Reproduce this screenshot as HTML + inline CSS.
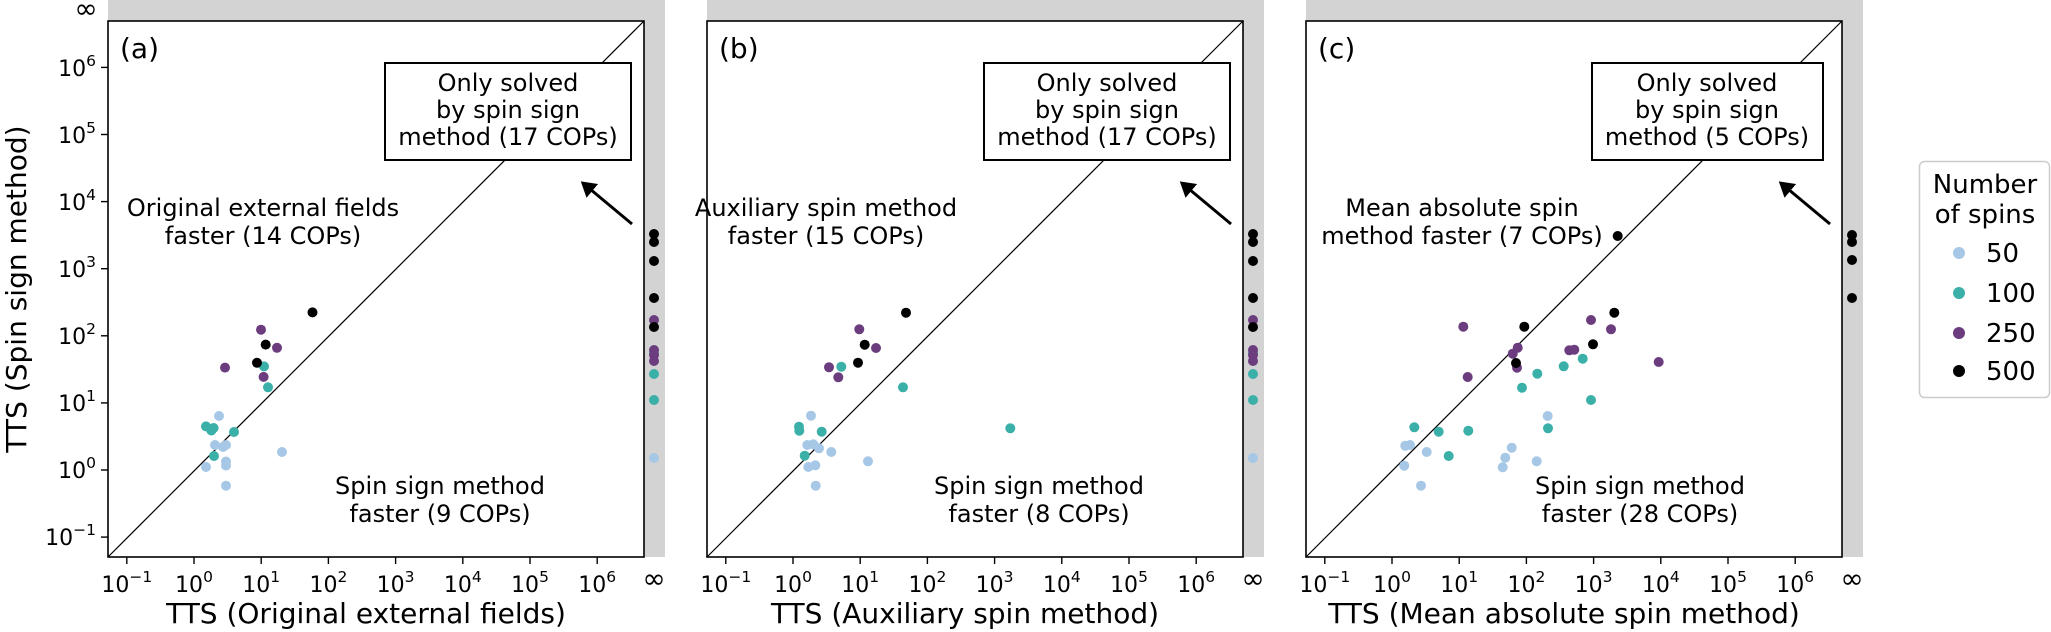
<!DOCTYPE html>
<html><head><meta charset="utf-8"><style>
html,body{margin:0;padding:0;background:#fff;}
svg{display:block;}
text{font-family:"DejaVu Sans","Liberation Sans",sans-serif;fill:#000;}
.t{font-size:22px;}
.s{font-size:15.5px;}
.p{font-size:24px;}
.l{font-size:28px;}
</style></head><body>
<svg width="2051" height="632" viewBox="0 0 2051 632" xmlns="http://www.w3.org/2000/svg">
<defs>
<marker id="ah" markerWidth="6" markerHeight="6" refX="1" refY="3" orient="auto" markerUnits="strokeWidth">
<path d="M0,0 L5,3 L0,6 z" fill="#000"/></marker>
</defs>

<!-- ================= PANEL A ================= -->
<g>
<rect x="108" y="0" width="557" height="21" fill="#d3d3d3"/>
<rect x="644" y="21" width="21" height="536" fill="#d3d3d3"/>
<rect x="108" y="21" width="536" height="536" fill="#fff" stroke="#000" stroke-width="1.6"/>
<line x1="108" y1="557" x2="644" y2="21" stroke="#000" stroke-width="1.2"/>
<g stroke="#000" stroke-width="1.4">
<line x1="126.8" y1="557" x2="126.8" y2="564"/><line x1="194" y1="557" x2="194" y2="564"/><line x1="261.2" y1="557" x2="261.2" y2="564"/><line x1="328.4" y1="557" x2="328.4" y2="564"/><line x1="395.6" y1="557" x2="395.6" y2="564"/><line x1="462.8" y1="557" x2="462.8" y2="564"/><line x1="530" y1="557" x2="530" y2="564"/><line x1="597.2" y1="557" x2="597.2" y2="564"/>
<line x1="101" y1="537.1" x2="108" y2="537.1"/><line x1="101" y1="470" x2="108" y2="470"/><line x1="101" y1="402.9" x2="108" y2="402.9"/><line x1="101" y1="335.8" x2="108" y2="335.8"/><line x1="101" y1="268.7" x2="108" y2="268.7"/><line x1="101" y1="201.6" x2="108" y2="201.6"/><line x1="101" y1="134.5" x2="108" y2="134.5"/><line x1="101" y1="67.4" x2="108" y2="67.4"/>
</g>
<g class="t" text-anchor="middle">
<text x="126.8" y="592">10<tspan class="s" dy="-10">−1</tspan></text>
<text x="194" y="592">10<tspan class="s" dy="-10">0</tspan></text>
<text x="261.2" y="592">10<tspan class="s" dy="-10">1</tspan></text>
<text x="328.4" y="592">10<tspan class="s" dy="-10">2</tspan></text>
<text x="395.6" y="592">10<tspan class="s" dy="-10">3</tspan></text>
<text x="462.8" y="592">10<tspan class="s" dy="-10">4</tspan></text>
<text x="530" y="592">10<tspan class="s" dy="-10">5</tspan></text>
<text x="597.2" y="592">10<tspan class="s" dy="-10">6</tspan></text>
</g>
<g class="t" text-anchor="end">
<text x="96" y="545">10<tspan class="s" dy="-10">−1</tspan></text>
<text x="96" y="478">10<tspan class="s" dy="-10">0</tspan></text>
<text x="96" y="411">10<tspan class="s" dy="-10">1</tspan></text>
<text x="96" y="344">10<tspan class="s" dy="-10">2</tspan></text>
<text x="96" y="277">10<tspan class="s" dy="-10">3</tspan></text>
<text x="96" y="210">10<tspan class="s" dy="-10">4</tspan></text>
<text x="96" y="143">10<tspan class="s" dy="-10">5</tspan></text>
<text x="96" y="76">10<tspan class="s" dy="-10">6</tspan></text>
</g>
<text x="86" y="18" class="l" text-anchor="middle">∞</text>
<text x="654" y="588" class="l" text-anchor="middle">∞</text>
<text x="120" y="58" class="l">(a)</text>
<text class="p" text-anchor="middle"><tspan x="263" y="216">Original external fields</tspan><tspan x="263" y="244">faster (14 COPs)</tspan></text>
<text class="p" text-anchor="middle"><tspan x="440" y="494">Spin sign method</tspan><tspan x="440" y="522">faster (9 COPs)</tspan></text>
<rect x="385" y="63" width="246" height="97" fill="#fff" stroke="#000" stroke-width="2"/>
<text class="p" text-anchor="middle"><tspan x="508" y="91">Only solved</tspan><tspan x="508" y="118">by spin sign</tspan><tspan x="508" y="145">method (17 COPs)</tspan></text>
<line x1="632" y1="224" x2="590" y2="189" stroke="#000" stroke-width="3" marker-end="url(#ah)"/>
<text x="366" y="623" class="l" text-anchor="middle">TTS (Original external fields)</text>
<text transform="translate(26,289) rotate(-90)" class="l" text-anchor="middle">TTS (Spin sign method)</text>
<g fill="#a6c8e6">
<circle cx="219" cy="416" r="5"/><circle cx="215" cy="445" r="5"/><circle cx="226" cy="445" r="5"/><circle cx="223" cy="447" r="5"/><circle cx="226" cy="461.5" r="5"/><circle cx="226" cy="465.5" r="5"/><circle cx="206" cy="467" r="5"/><circle cx="282" cy="452" r="5"/><circle cx="226" cy="485.7" r="5"/><circle cx="654" cy="458" r="5"/>
</g>
<g fill="#3bb0a9">
<circle cx="264" cy="366.4" r="5"/><circle cx="268" cy="387.3" r="5"/><circle cx="206" cy="426.4" r="5"/><circle cx="213.6" cy="428" r="5"/><circle cx="211.4" cy="430.5" r="5"/><circle cx="234" cy="432" r="5"/><circle cx="214" cy="456" r="5"/>
<circle cx="654" cy="353" r="5"/><circle cx="654" cy="374" r="5"/><circle cx="654" cy="400" r="5"/>
</g>
<g fill="#6b3d7f">
<circle cx="261" cy="329.7" r="5"/><circle cx="277" cy="347.8" r="5"/><circle cx="225" cy="367.6" r="5"/><circle cx="263.6" cy="376.9" r="5"/>
<circle cx="654" cy="320" r="5"/><circle cx="654" cy="350" r="5"/><circle cx="654" cy="355" r="5"/><circle cx="654" cy="361" r="5"/>
</g>
<g fill="#000">
<circle cx="312.5" cy="312.4" r="5"/><circle cx="265.7" cy="344.6" r="5"/><circle cx="257" cy="362.8" r="5"/>
<circle cx="654" cy="234" r="5"/><circle cx="654" cy="242" r="5"/><circle cx="654" cy="261" r="5"/><circle cx="654" cy="298" r="5"/><circle cx="654" cy="327" r="5"/>
</g>
</g>

<!-- ================= PANEL B ================= -->
<g>
<rect x="707" y="0" width="557" height="21" fill="#d3d3d3"/>
<rect x="1243" y="21" width="21" height="536" fill="#d3d3d3"/>
<rect x="707" y="21" width="536" height="536" fill="#fff" stroke="#000" stroke-width="1.6"/>
<line x1="707" y1="557" x2="1243" y2="21" stroke="#000" stroke-width="1.2"/>
<g stroke="#000" stroke-width="1.4">
<line x1="725.8" y1="557" x2="725.8" y2="564"/><line x1="793" y1="557" x2="793" y2="564"/><line x1="860.2" y1="557" x2="860.2" y2="564"/><line x1="927.4" y1="557" x2="927.4" y2="564"/><line x1="994.6" y1="557" x2="994.6" y2="564"/><line x1="1061.8" y1="557" x2="1061.8" y2="564"/><line x1="1129" y1="557" x2="1129" y2="564"/><line x1="1196.2" y1="557" x2="1196.2" y2="564"/>
</g>
<g class="t" text-anchor="middle">
<text x="725.8" y="592">10<tspan class="s" dy="-10">−1</tspan></text>
<text x="793" y="592">10<tspan class="s" dy="-10">0</tspan></text>
<text x="860.2" y="592">10<tspan class="s" dy="-10">1</tspan></text>
<text x="927.4" y="592">10<tspan class="s" dy="-10">2</tspan></text>
<text x="994.6" y="592">10<tspan class="s" dy="-10">3</tspan></text>
<text x="1061.8" y="592">10<tspan class="s" dy="-10">4</tspan></text>
<text x="1129" y="592">10<tspan class="s" dy="-10">5</tspan></text>
<text x="1196.2" y="592">10<tspan class="s" dy="-10">6</tspan></text>
</g>
<text x="1253" y="588" class="l" text-anchor="middle">∞</text>
<text x="719" y="58" class="l">(b)</text>
<text class="p" text-anchor="middle"><tspan x="826" y="216">Auxiliary spin method</tspan><tspan x="826" y="244">faster (15 COPs)</tspan></text>
<text class="p" text-anchor="middle"><tspan x="1039" y="494">Spin sign method</tspan><tspan x="1039" y="522">faster (8 COPs)</tspan></text>
<rect x="984" y="63" width="246" height="97" fill="#fff" stroke="#000" stroke-width="2"/>
<text class="p" text-anchor="middle"><tspan x="1107" y="91">Only solved</tspan><tspan x="1107" y="118">by spin sign</tspan><tspan x="1107" y="145">method (17 COPs)</tspan></text>
<line x1="1231" y1="224" x2="1189" y2="189" stroke="#000" stroke-width="3" marker-end="url(#ah)"/>
<text x="965" y="623" class="l" text-anchor="middle">TTS (Auxiliary spin method)</text>
<g fill="#a6c8e6">
<circle cx="811" cy="415.7" r="5"/><circle cx="807.3" cy="445" r="5"/><circle cx="813.3" cy="444.3" r="5"/><circle cx="819" cy="448.3" r="5"/><circle cx="831.3" cy="452" r="5"/><circle cx="808.3" cy="467" r="5"/><circle cx="815.3" cy="465.3" r="5"/><circle cx="868" cy="461.3" r="5"/><circle cx="815.7" cy="485.7" r="5"/><circle cx="1253" cy="458" r="5"/>
</g>
<g fill="#3bb0a9">
<circle cx="841.3" cy="366.7" r="5"/><circle cx="903" cy="387.3" r="5"/><circle cx="799" cy="426.7" r="5"/><circle cx="799.3" cy="430.7" r="5"/><circle cx="821.7" cy="431.7" r="5"/><circle cx="804.7" cy="455.7" r="5"/><circle cx="1010.3" cy="428.3" r="5"/>
<circle cx="1253" cy="353" r="5"/><circle cx="1253" cy="374" r="5"/><circle cx="1253" cy="400" r="5"/>
</g>
<g fill="#6b3d7f">
<circle cx="859.3" cy="329.3" r="5"/><circle cx="876" cy="348" r="5"/><circle cx="829" cy="367.3" r="5"/><circle cx="838.3" cy="377.3" r="5"/>
<circle cx="1253" cy="320" r="5"/><circle cx="1253" cy="350" r="5"/><circle cx="1253" cy="355" r="5"/><circle cx="1253" cy="361" r="5"/>
</g>
<g fill="#000">
<circle cx="906" cy="312.7" r="5"/><circle cx="864.7" cy="344.7" r="5"/><circle cx="858" cy="362.7" r="5"/>
<circle cx="1253" cy="234" r="5"/><circle cx="1253" cy="242" r="5"/><circle cx="1253" cy="261" r="5"/><circle cx="1253" cy="298" r="5"/><circle cx="1253" cy="327" r="5"/>
</g>
</g>

<!-- ================= PANEL C ================= -->
<g>
<rect x="1306" y="0" width="557" height="21" fill="#d3d3d3"/>
<rect x="1842" y="21" width="21" height="536" fill="#d3d3d3"/>
<rect x="1306" y="21" width="536" height="536" fill="#fff" stroke="#000" stroke-width="1.6"/>
<line x1="1306" y1="557" x2="1842" y2="21" stroke="#000" stroke-width="1.2"/>
<g stroke="#000" stroke-width="1.4">
<line x1="1324.8" y1="557" x2="1324.8" y2="564"/><line x1="1392" y1="557" x2="1392" y2="564"/><line x1="1459.2" y1="557" x2="1459.2" y2="564"/><line x1="1526.4" y1="557" x2="1526.4" y2="564"/><line x1="1593.6" y1="557" x2="1593.6" y2="564"/><line x1="1660.8" y1="557" x2="1660.8" y2="564"/><line x1="1728" y1="557" x2="1728" y2="564"/><line x1="1795.2" y1="557" x2="1795.2" y2="564"/>
</g>
<g class="t" text-anchor="middle">
<text x="1324.8" y="592">10<tspan class="s" dy="-10">−1</tspan></text>
<text x="1392" y="592">10<tspan class="s" dy="-10">0</tspan></text>
<text x="1459.2" y="592">10<tspan class="s" dy="-10">1</tspan></text>
<text x="1526.4" y="592">10<tspan class="s" dy="-10">2</tspan></text>
<text x="1593.6" y="592">10<tspan class="s" dy="-10">3</tspan></text>
<text x="1660.8" y="592">10<tspan class="s" dy="-10">4</tspan></text>
<text x="1728" y="592">10<tspan class="s" dy="-10">5</tspan></text>
<text x="1795.2" y="592">10<tspan class="s" dy="-10">6</tspan></text>
</g>
<text x="1852" y="588" class="l" text-anchor="middle">∞</text>
<text x="1318" y="58" class="l">(c)</text>
<text class="p" text-anchor="middle"><tspan x="1462" y="216">Mean absolute spin</tspan><tspan x="1462" y="244">method faster (7 COPs)</tspan></text>
<text class="p" text-anchor="middle"><tspan x="1640" y="494">Spin sign method</tspan><tspan x="1640" y="522">faster (28 COPs)</tspan></text>
<rect x="1592" y="63" width="231" height="97" fill="#fff" stroke="#000" stroke-width="2"/>
<text class="p" text-anchor="middle"><tspan x="1707" y="91">Only solved</tspan><tspan x="1707" y="118">by spin sign</tspan><tspan x="1707" y="145">method (5 COPs)</tspan></text>
<line x1="1830" y1="224" x2="1788" y2="189" stroke="#000" stroke-width="3" marker-end="url(#ah)"/>
<text x="1564" y="623" class="l" text-anchor="middle">TTS (Mean absolute spin method)</text>
<g fill="#a6c8e6">
<circle cx="1547.7" cy="416" r="5"/><circle cx="1405.3" cy="445.7" r="5"/><circle cx="1410" cy="445" r="5"/><circle cx="1426.7" cy="452" r="5"/><circle cx="1511.7" cy="447.7" r="5"/><circle cx="1505.3" cy="457.7" r="5"/><circle cx="1502.7" cy="467.3" r="5"/><circle cx="1536.7" cy="461.3" r="5"/><circle cx="1404.3" cy="465.7" r="5"/><circle cx="1421" cy="485.7" r="5"/>
</g>
<g fill="#3bb0a9">
<circle cx="1582.7" cy="358.7" r="5"/><circle cx="1563.7" cy="366.3" r="5"/><circle cx="1537.3" cy="373.7" r="5"/><circle cx="1522" cy="387.7" r="5"/><circle cx="1591" cy="400" r="5"/><circle cx="1414.3" cy="427.3" r="5"/><circle cx="1438.7" cy="431.7" r="5"/><circle cx="1468.3" cy="430.7" r="5"/><circle cx="1548" cy="428.3" r="5"/><circle cx="1448.7" cy="456" r="5"/>
</g>
<g fill="#6b3d7f">
<circle cx="1463.3" cy="326.7" r="5"/><circle cx="1591" cy="320" r="5"/><circle cx="1611" cy="329.3" r="5"/><circle cx="1517.7" cy="347.7" r="5"/><circle cx="1512.7" cy="353.7" r="5"/><circle cx="1569.3" cy="350.3" r="5"/><circle cx="1574.3" cy="349.7" r="5"/><circle cx="1517" cy="367.7" r="5"/><circle cx="1658.7" cy="362" r="5"/><circle cx="1467.7" cy="377" r="5"/>
</g>
<g fill="#000">
<circle cx="1617.7" cy="236" r="5"/><circle cx="1614.3" cy="312.7" r="5"/><circle cx="1524.3" cy="326.7" r="5"/><circle cx="1593" cy="344.3" r="5"/><circle cx="1516" cy="363" r="5"/>
<circle cx="1852" cy="235" r="5"/><circle cx="1852" cy="242" r="5"/><circle cx="1852" cy="260" r="5"/><circle cx="1852" cy="298" r="5"/>
</g>
</g>

<!-- ================= LEGEND ================= -->
<rect x="1919.5" y="161.5" width="130" height="236" rx="5" ry="5" fill="#fff" stroke="#cccccc" stroke-width="1.5"/>
<text font-size="26" text-anchor="middle"><tspan x="1985" y="193">Number</tspan><tspan x="1985" y="223">of spins</tspan></text>
<circle cx="1959" cy="253" r="6" fill="#a6c8e6"/>
<circle cx="1959" cy="293" r="6" fill="#3bb0a9"/>
<circle cx="1959" cy="333" r="6" fill="#6b3d7f"/>
<circle cx="1959" cy="371" r="6" fill="#000"/>
<text font-size="26" x="1986" y="262">50</text>
<text font-size="26" x="1986" y="302">100</text>
<text font-size="26" x="1986" y="342">250</text>
<text font-size="26" x="1986" y="380">500</text>
</svg>
</body></html>
